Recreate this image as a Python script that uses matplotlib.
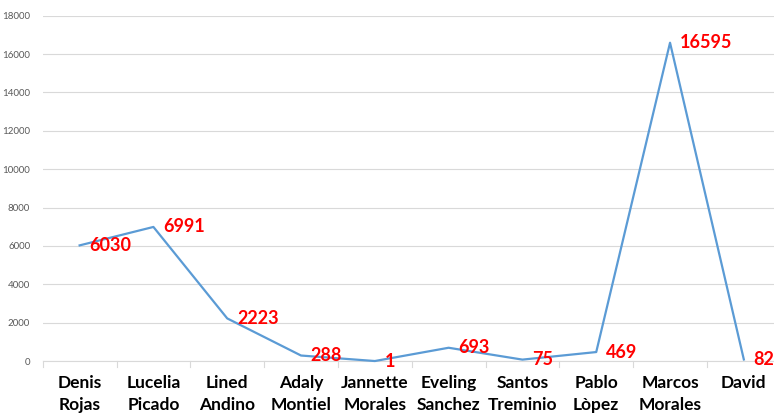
import matplotlib.pyplot as plt

names = ["Denis\nRojas", "Lucelia\nPicado", "Lined\nAndino", "Adaly\nMontiel", "Jannette\nMorales",
         "Eveling\nSanchez", "Santos\nTreminio", "Pablo\nLòpez", "Marcos\nMorales", "David"]
values = [6030, 6991, 2223, 288, 1, 693, 75, 469, 16595, 82]
yticks = [0, 2000, 4000, 6000, 8000, 10000, 12000, 14000, 16000, 18000]

plt.rcParams['font.family'] = ['Lato', 'DejaVu Sans']

fig = plt.figure(figsize=(7.74, 4.15), dpi=100)
ax = fig.add_axes([0.0552, 0.130, 0.9535, 0.832])

x = list(range(len(values)))
ax.plot(x, values, color='#5B9BD5', linewidth=1.6, zorder=3, clip_on=False)

for i, v in enumerate(values):
    ax.annotate(str(v), (i, v), xytext=(7, 0), textcoords='offset points',
                ha='left', va='center', color='#FF0000', fontsize=13,
                fontweight='bold', zorder=4, annotation_clip=False)

ax.set_xlim(-0.5, len(values) - 0.5)
ax.set_ylim(0, 18000)
ax.set_yticks(yticks)
ax.set_yticklabels([str(t) for t in yticks], fontsize=7, color='#595959')
ax.tick_params(axis='y', length=0, pad=9)

ax.set_xticks(x)
ax.set_xticklabels(names, fontsize=12.5, fontweight='bold', color='black', linespacing=1.5)
ax.tick_params(axis='x', length=0, pad=10)
# separators between categories on the axis
for b in range(len(values) + 1):
    ax.plot([b - 0.5, b - 0.5], [0, -300], color='#D9D9D9', linewidth=0.8, clip_on=False)

ax.grid(axis='y', color='#D9D9D9', linewidth=0.8)
ax.set_axisbelow(True)
for s in ['top', 'right', 'left']:
    ax.spines[s].set_visible(False)
ax.spines['bottom'].set_color('#D9D9D9')
ax.spines['bottom'].set_linewidth(0.8)

fig.text(0.968, 1.012, "0", fontsize=10, color='#404040', ha='center', va='center')

plt.savefig('out.png', dpi=100)
